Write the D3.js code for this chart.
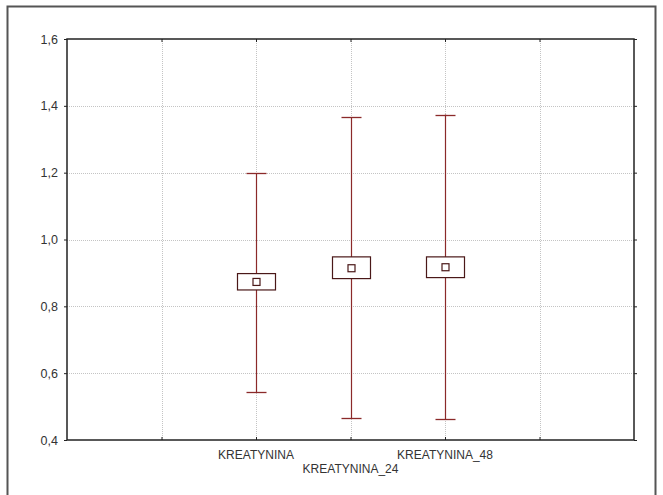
<!DOCTYPE html>
<html><head><meta charset="utf-8">
<script src="https://cdn.jsdelivr.net/npm/d3@7"></script>
<style>body{margin:0;background:#fff}</style>
</head><body><svg id="c" width="663" height="495"></svg>
<script>
const categories = ["KREATYNINA","KREATYNINA_24","KREATYNINA_48"];
const catPos = [2,3,4];
const means = [0.873,0.914,0.917];
const boxLow = [0.849,0.883,0.886];
const boxHigh = [0.898,0.948,0.948];
const whiskLow = [0.543,0.465,0.462];
const whiskHigh = [1.198,1.366,1.374];
const yTicks = [0.4,0.6,0.8,1.0,1.2,1.4,1.6];
const xGrid = [1,2,3,4,5];

const svg = d3.select("#c");
const L=67,R=634,T=39,B=440;
const x = d3.scaleLinear().domain([0,6]).range([L,R]);
const y = d3.scaleLinear().domain([0.4,1.6]).range([B,T]);

// outer frame
svg.append("path").attr("d",`M7.5,495 V6.5 H655.5 V495`).attr("fill","none").attr("stroke","#555").attr("stroke-width",2);

// grid
svg.append("g").selectAll("line").data(yTicks.slice(1,-1)).join("line")
 .attr("x1",L).attr("x2",R).attr("y1",d=>Math.round(y(d))+0.5).attr("y2",d=>Math.round(y(d))+0.5)
 .attr("stroke","#c4c4c4").attr("stroke-dasharray","1,1");
svg.append("g").selectAll("line").data(xGrid).join("line")
 .attr("y1",T).attr("y2",B).attr("x1",d=>Math.round(x(d))+0.5).attr("x2",d=>Math.round(x(d))+0.5)
 .attr("stroke","#c4c4c4").attr("stroke-dasharray","1,1");

// axes
const fmt = d=>d3.format(".1f")(d).replace(".",",");
const yAx = svg.append("g").attr("transform",`translate(${L},0)`)
 .call(d3.axisLeft(y).tickValues(yTicks).tickFormat(fmt).tickSize(3).tickPadding(6));
const yAxR = svg.append("g").attr("transform",`translate(${R},0)`)
 .call(d3.axisRight(y).tickValues(yTicks).tickFormat("").tickSize(3));
const xAxB = svg.append("g").attr("transform",`translate(0,${B})`)
 .call(d3.axisTop(x).tickValues(xGrid).tickFormat("").tickSize(3));
const xAxT = svg.append("g").attr("transform",`translate(0,${T})`)
 .call(d3.axisBottom(x).tickValues(xGrid).tickFormat("").tickSize(3));
[yAx,yAxR,xAxB,xAxT].forEach(g=>{g.select(".domain").remove();g.selectAll("line").attr("stroke","#222");});
yAx.selectAll("text").attr("font-family","Liberation Sans, Arial, sans-serif").attr("font-size",12.5).attr("fill","#333");

// plot border
svg.append("rect").attr("x",L).attr("y",T).attr("width",R-L).attr("height",B-T)
 .attr("fill","none").attr("stroke","#222").attr("stroke-width",1.5);

// x labels
svg.append("g").selectAll("text").data(categories).join("text")
 .attr("x",(d,i)=>x(catPos[i])).attr("y",(d,i)=>i===1?473:459)
 .attr("text-anchor","middle").attr("font-family","Liberation Sans, Arial, sans-serif")
 .attr("font-size",12).attr("fill","#333").text(d=>d);

// whiskers
const wc="#8b2a2a", bc="#4a1818";
const g = svg.append("g");
categories.forEach((c,i)=>{
  const cx=Math.round(x(catPos[i]))+0.5;
  g.append("line").attr("x1",cx).attr("x2",cx).attr("y1",y(whiskLow[i])).attr("y2",y(whiskHigh[i])).attr("stroke",wc).attr("stroke-width",1.2);
  [whiskLow[i],whiskHigh[i]].forEach(v=>{
    g.append("line").attr("x1",cx-10).attr("x2",cx+10).attr("y1",Math.round(y(v))+0.5).attr("y2",Math.round(y(v))+0.5).attr("stroke",wc).attr("stroke-width",1.3);
  });
  g.append("rect").attr("x",cx-19).attr("width",38).attr("y",y(boxHigh[i])).attr("height",y(boxLow[i])-y(boxHigh[i]))
   .attr("fill","#fff").attr("stroke",bc).attr("stroke-width",1.2);
  g.append("rect").attr("x",cx-3.5).attr("width",7).attr("y",y(means[i])-3.5).attr("height",7)
   .attr("fill","#fff").attr("stroke",bc).attr("stroke-width",1.2);
});
</script></body></html>
